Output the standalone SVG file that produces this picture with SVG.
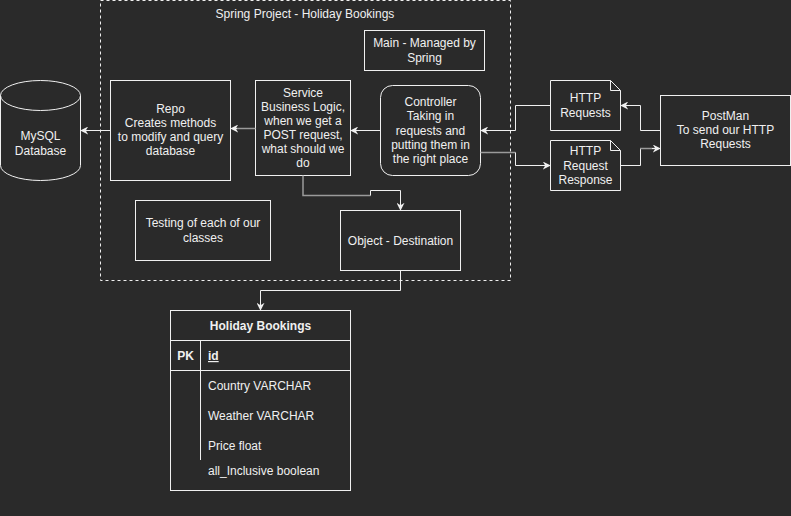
<svg xmlns="http://www.w3.org/2000/svg" width="791" height="516" viewBox="0 0 791 516">
<defs>
<style>
.bx{fill:#2a2a2a;stroke:#f0f0f0;stroke-width:1}
.t{font-family:"Liberation Sans",Arial,sans-serif;font-size:12px;fill:#f0f0f0;text-anchor:middle}
.tl{font-family:"Liberation Sans",Arial,sans-serif;font-size:12px;fill:#f0f0f0}
.b{font-weight:bold}
.c{fill:none;stroke:#f0f0f0;stroke-width:1}
.g{fill:none;stroke:#9a9a9a;stroke-width:1.5}
</style>
<marker id="ar" viewBox="0 0 10 10" refX="9" refY="5" markerWidth="8" markerHeight="8" markerUnits="userSpaceOnUse" orient="auto">
<path d="M0,0 L10,5 L0,10 L3,5 Z" fill="#f0f0f0"/>
</marker>
</defs>
<rect width="791" height="516" fill="#2a2a2a"/>
<g id="container">
<rect x="100.5" y="0.5" width="410" height="280" fill="none" stroke="#f0f0f0" stroke-dasharray="3,3"/>
<text class="t" x="305" y="18">Spring Project - Holiday Bookings</text>
</g>
<g id="main">
<rect class="bx" x="364.5" y="30.5" width="120" height="40"/>
<text class="t" x="424.5" y="47">Main - Managed by</text>
<text class="t" x="424.5" y="62">Spring</text>
</g>
<g id="mysql">
<path class="bx" d="M0.5,95.5 A40,15 0 0 1 80.5,95.5 L80.5,165.5 A40,15 0 0 1 0.5,165.5 Z"/>
<path class="c" d="M0.5,95.5 A40,15 0 0 0 80.5,95.5"/>
<text class="t" x="40.5" y="140">MySQL</text>
<text class="t" x="40.5" y="155">Database</text>
</g>
<g id="repo">
<rect class="bx" x="110.5" y="80.5" width="120" height="100"/>
<text class="t" x="170.5" y="113">Repo</text>
<text class="t" x="170.5" y="127">Creates methods</text>
<text class="t" x="170.5" y="141">to modify and query</text>
<text class="t" x="170.5" y="155">database</text>
</g>
<g id="service">
<rect class="bx" x="255.5" y="80.5" width="95" height="95"/>
<text class="t" x="303" y="97">Service</text>
<text class="t" x="303" y="111">Business Logic,</text>
<text class="t" x="303" y="125">when we get a</text>
<text class="t" x="303" y="139">POST request,</text>
<text class="t" x="303" y="153">what should we</text>
<text class="t" x="303" y="167">do</text>
</g>
<g id="controller">
<rect class="bx" x="380.5" y="85.5" width="100" height="90" rx="12" ry="12"/>
<text class="t" x="430.5" y="106">Controller</text>
<text class="t" x="430.5" y="120">Taking in</text>
<text class="t" x="430.5" y="135">requests and</text>
<text class="t" x="430.5" y="149">putting them in</text>
<text class="t" x="430.5" y="163">the right place</text>
</g>
<g id="httpreq">
<path class="bx" d="M550.5,80.5 H610.5 L620.5,90.5 V130.5 H550.5 Z"/>
<path class="c" d="M610.5,80.5 V90.5 H620.5"/>
<text class="t" x="585.5" y="102">HTTP</text>
<text class="t" x="585.5" y="117">Requests</text>
</g>
<g id="httpresp">
<path class="bx" d="M550.5,140.5 H610.5 L620.5,150.5 V190.5 H550.5 Z"/>
<path class="c" d="M610.5,140.5 V150.5 H620.5"/>
<text class="t" x="585.5" y="155">HTTP</text>
<text class="t" x="585.5" y="170">Request</text>
<text class="t" x="585.5" y="184">Response</text>
</g>
<g id="postman">
<rect class="bx" x="660.5" y="95.5" width="130" height="70"/>
<text class="t" x="725.5" y="120">PostMan</text>
<text class="t" x="725.5" y="134">To send our HTTP</text>
<text class="t" x="725.5" y="148">Requests</text>
</g>
<g id="testing">
<rect class="bx" x="135.5" y="200.5" width="135" height="60"/>
<text class="t" x="203" y="227">Testing of each of our</text>
<text class="t" x="203" y="242">classes</text>
</g>
<g id="object">
<rect class="bx" x="340.5" y="210.5" width="120" height="60"/>
<text class="t" x="400.5" y="245">Object - Destination</text>
</g>
<g id="table">
<rect class="bx" x="170.5" y="310.5" width="180" height="180"/>
<path class="c" d="M170.5,340.5 H350.5 M170.5,370.5 H350.5 M200.5,340.5 V460"/>
<text class="t b" x="260.5" y="330">Holiday Bookings</text>
<text class="t b" x="185.5" y="360">PK</text>
<text class="tl b" x="208" y="360" text-decoration="underline">id</text>
<text class="tl" x="208" y="390">Country VARCHAR</text>
<text class="tl" x="208" y="420">Weather VARCHAR</text>
<text class="tl" x="208" y="450">Price float</text>
<text class="tl" x="208" y="475">all_Inclusive boolean</text>
</g>
<g id="connectors">
<path class="c" d="M110.5,130.5 H81" marker-end="url(#ar)"/>
<path class="g" d="M255.5,128.5 H236"/>
<path class="c" d="M237,128.5 H231" marker-end="url(#ar)"/>
<path class="c" d="M380.5,130.5 H351" marker-end="url(#ar)"/>
<path class="c" d="M550.5,105.5 H515.5 V130.5 H481" marker-end="url(#ar)"/>
<path class="g" d="M480.5,152.5 H515.5"/>
<path class="c" d="M515.5,152.5 V165.5 H550" marker-end="url(#ar)"/>
<path class="c" d="M660.5,130.5 H640.5 V105.5 H621" marker-end="url(#ar)"/>
<path class="c" d="M620.5,165.5 H640.5 V148.5 H646"/>
<path class="g" d="M640,148.5 H654"/>
<path class="c" d="M652,148.5 H660" marker-end="url(#ar)"/>
<path class="g" d="M303,175.5 V195.5 H370.5"/>
<path class="c" d="M370.5,195.5 V190.5 H400.5 V210" marker-end="url(#ar)"/>
<path class="c" d="M400.5,270.5 V290.5 H260.5 V310" marker-end="url(#ar)"/>
</g>
</svg>
